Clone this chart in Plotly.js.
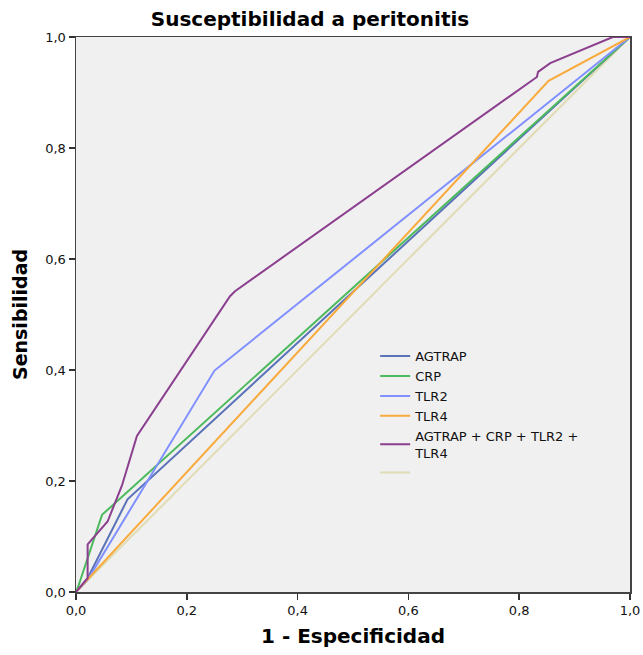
<!DOCTYPE html>
<html>
<head>
<meta charset="utf-8">
<script src="https://cdn.plot.ly/plotly-3.0.1.min.js"></script>
<style>html,body{margin:0;padding:0;background:#fff}#chart{width:643px;height:655px}</style>
</head>
<body>
<div id="chart"></div>
<script>
// ROC curves: 1 - Especificidad (x) vs Sensibilidad (y)
const seriesNames = ["AGTRAP", "CRP", "TLR2", "TLR4", "AGTRAP + CRP + TLR2 +<br>TLR4", " "];
const agtrapX = [0, 0.021, 0.093, 1];
const agtrapY = [0, 0.025, 0.167, 1];
const crpX = [0, 0.004, 0.047, 1];
const crpY = [0, 0.010, 0.139, 1];
const tlr2X = [0, 0.021, 0.250, 1];
const tlr2Y = [0, 0.022, 0.399, 1];
const tlr4X = [0, 0.853, 1];
const tlr4Y = [0, 0.921, 1];
const comboX = [0, 0.021, 0.021, 0.057, 0.083, 0.110, 0.278, 0.287, 0.832, 0.834, 0.856, 0.969, 1];
const comboY = [0, 0.025, 0.086, 0.127, 0.192, 0.281, 0.533, 0.542, 0.928, 0.937, 0.953, 1.0, 1];
const refX = [0, 1];
const refY = [0, 1];
const tickVals = [0, 0.2, 0.4, 0.6, 0.8, 1.0];
const colors = ["#5a72b8", "#4cba5c", "#8090ff", "#f9aa3c", "#8b3f8e", "#e0dcb4"];

const xs = [agtrapX, crpX, tlr2X, tlr4X, comboX, refX];
const ys = [agtrapY, crpY, tlr2Y, tlr4Y, comboY, refY];
const order = [5, 0, 1, 2, 3, 4]; // draw reference first (underneath)
const traces = order.map(i => ({
  type: "scatter", mode: "lines", x: xs[i], y: ys[i], name: seriesNames[i],
  line: {color: colors[i], width: 2}, legendrank: i + 1,
  hoverinfo: "skip"
}));

const font = "DejaVu Sans, Liberation Sans, Arial, sans-serif";
const layout = {
  width: 643, height: 655,
  margin: {l: 76, r: 13, t: 37, b: 63},
  paper_bgcolor: "#ffffff", plot_bgcolor: "#f0f0f0",
  separators: ", ",
  font: {family: font, size: 13, color: "#111"},
  title: {text: "<b>Susceptibilidad a peritonitis</b>", x: 310 / 643, xanchor: "center", y: 1 - 19 / 655, yanchor: "middle",
          font: {family: font, size: 20, color: "#000"}},
  xaxis: {range: [0, 1], tickvals: tickVals, tickformat: ".1f", ticks: "outside", ticklen: 6, tickwidth: 1.5, tickcolor: "#333",
          showgrid: false, zeroline: false, showline: true, mirror: true, linecolor: "#444", linewidth: 1.5,
          tickfont: {family: font, size: 13, color: "#111"},
          title: {text: "<b>1 - Especificidad</b>", font: {family: font, size: 20, color: "#000"}, standoff: 12}},
  yaxis: {range: [0, 1], tickvals: tickVals, tickformat: ".1f", ticks: "outside", ticklen: 6, tickwidth: 1.5, tickcolor: "#333",
          showgrid: false, zeroline: false, showline: true, mirror: true, linecolor: "#444", linewidth: 1.5,
          tickfont: {family: font, size: 13, color: "#111"},
          title: {text: "<b>Sensibilidad</b>", font: {family: font, size: 19, color: "#000"}, standoff: 12}},
  legend: {x: 0.54, xanchor: "left", y: 0.452, yanchor: "top", bgcolor: "rgba(0,0,0,0)", borderwidth: 0,
           font: {family: font, size: 13, color: "#111"}, tracegroupgap: 0, traceorder: "normal", itemwidth: 30},
  showlegend: true
};
Plotly.newPlot("chart", traces, layout, {displayModeBar: false, staticPlot: true});
</script>
</body>
</html>
